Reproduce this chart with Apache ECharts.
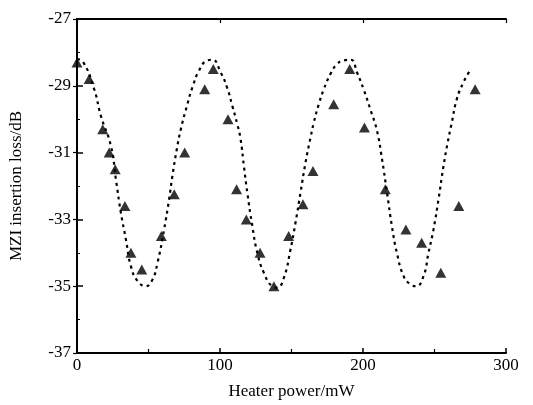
<!DOCTYPE html>
<html>
<head>
<meta charset="utf-8">
<script src="https://cdn.jsdelivr.net/npm/echarts@6/dist/echarts.min.js"></script>
<style>html,body{margin:0;padding:0;background:#fff}#c{width:533px;height:405px}</style>
</head>
<body>
<div id="c"></div>
<script>
// Measured points (triangles): heater power (mW) and insertion loss (dB)
var measPower = [0, 8.5, 18, 22.5, 26.7, 33.5, 37.7, 45.3, 59, 68, 75.3, 89.3, 95.3, 105.6, 111.6, 118.4, 128, 137.7, 148, 158, 165, 179.5, 190.7, 201, 215.6, 230, 241, 254.4, 267, 278.4];
var measLoss  = [-28.3, -28.8, -30.3, -31.0, -31.5, -32.6, -34.0, -34.5, -33.5, -32.25, -31.0, -29.1, -28.5, -30.0, -32.1, -33.0, -34.0, -35.0, -33.5, -32.55, -31.55, -29.55, -28.5, -30.25, -32.1, -33.3, -33.7, -34.6, -32.6, -29.1];
// Fitted curve (dashed)
var fitPower = [0, 4, 12, 16.7, 23.7, 27.2, 30.7, 34.2, 37.7, 42.3, 48.1, 52.8, 56.3, 60.9, 64.4, 66.7, 69.8, 72.6, 77.2, 80.7, 85.3, 91.2, 94.7, 100.5, 105.1, 108.6, 112.1, 114.4, 116.7, 119.1, 122.6, 126.1, 130.7, 136.5, 140, 144.7, 149.3, 152.8, 156.3, 159.8, 163.3, 165.6, 169.1, 172.6, 177.2, 181.9, 186.5, 191.6, 195.8, 200.4, 205.1, 209.8, 213.3, 216.8, 220.2, 223.7, 228.4, 233, 237.2, 242.3, 245.8, 249.3, 252.8, 256.3, 259.2, 262.1, 265.6, 270.2, 274.9];
var fitLoss  = [-28.2, -28.27, -29.1, -29.9, -30.8, -31.8, -32.8, -33.6, -34.4, -34.84, -35.0, -34.8, -34.3, -33.3, -32.4, -31.7, -30.9, -30.3, -29.55, -29.05, -28.55, -28.24, -28.22, -28.6, -29.07, -29.6, -30.15, -30.6, -31.4, -32.2, -33.2, -34.0, -34.6, -35.0, -35.04, -34.74, -33.9, -33.1, -32.2, -31.3, -30.55, -30.1, -29.55, -29.1, -28.65, -28.35, -28.24, -28.22, -28.6, -29.1, -29.7, -30.35, -31.2, -32.2, -33.2, -34.0, -34.7, -34.94, -35.0, -34.7, -34.0, -33.3, -32.4, -31.4, -30.7, -30.1, -29.4, -28.9, -28.54];
var xTicks = [0, 100, 200, 300];
var yTicks = [-37, -35, -33, -31, -29, -27];

var chart = echarts.init(document.getElementById('c'));
var font = 'Liberation Serif';
var axLine = {show: true, lineStyle: {color: '#000', width: 2}};
function zip(a, b) { return a.map(function (v, i) { return [v, b[i]]; }); }
chart.setOption({
  animation: false,
  backgroundColor: '#fff',
  grid: {left: 76, right: 27, top: 19, bottom: 51},
  xAxis: [{
    type: 'value', min: xTicks[0], max: xTicks[xTicks.length - 1], interval: 100,
    position: 'bottom',
    name: 'Heater power/mW', nameLocation: 'middle', nameGap: 30,
    nameTextStyle: {fontFamily: font, fontSize: 17, color: '#000'},
    axisLine: axLine,
    axisTick: {show: true, inside: true, length: 5, lineStyle: {color: '#000', width: 1.5}},
    minorTick: {show: true, splitNumber: 2, length: 4, lineStyle: {color: '#000', width: 1.2}},
    axisLabel: {fontFamily: font, fontSize: 17, color: '#000', margin: 4},
    splitLine: {show: false}
  }, {
    type: 'value', min: xTicks[0], max: xTicks[xTicks.length - 1], interval: 100,
    position: 'top',
    axisLine: axLine,
    axisTick: {show: true, inside: true, length: 4, lineStyle: {color: '#000', width: 1.2}},
    axisLabel: {show: false}, splitLine: {show: false}
  }],
  yAxis: [{
    type: 'value', min: yTicks[0], max: yTicks[yTicks.length - 1], interval: 2,
    position: 'left',
    name: 'MZI insertion loss/dB', nameLocation: 'middle', nameGap: 52,
    nameTextStyle: {fontFamily: font, fontSize: 17, color: '#000'},
    axisLine: axLine,
    axisTick: {show: true, inside: true, length: 6, lineStyle: {color: '#000', width: 1.5}},
    minorTick: {show: true, splitNumber: 2, length: 3, lineStyle: {color: '#000', width: 1}},
    axisLabel: {fontFamily: font, fontSize: 17, color: '#000', margin: 6},
    splitLine: {show: false}
  }, {
    type: 'value', min: yTicks[0], max: yTicks[yTicks.length - 1], interval: 2,
    position: 'right',
    axisLine: axLine,
    axisTick: {show: true, inside: true, length: 4, lineStyle: {color: '#000', width: 1.2}},
    axisLabel: {show: false}, splitLine: {show: false}
  }],
  series: [{
    type: 'line',
    data: zip(fitPower, fitLoss),
    smooth: 0.5,
    showSymbol: false,
    lineStyle: {color: '#000', width: 2.2, type: [3, 4]},
    z: 2
  }, {
    type: 'scatter',
    data: zip(measPower, measLoss),
    symbol: 'triangle',
    symbolSize: [11, 10],
    itemStyle: {color: '#000'},
    z: 3
  }]
});
</script>
</body>
</html>
